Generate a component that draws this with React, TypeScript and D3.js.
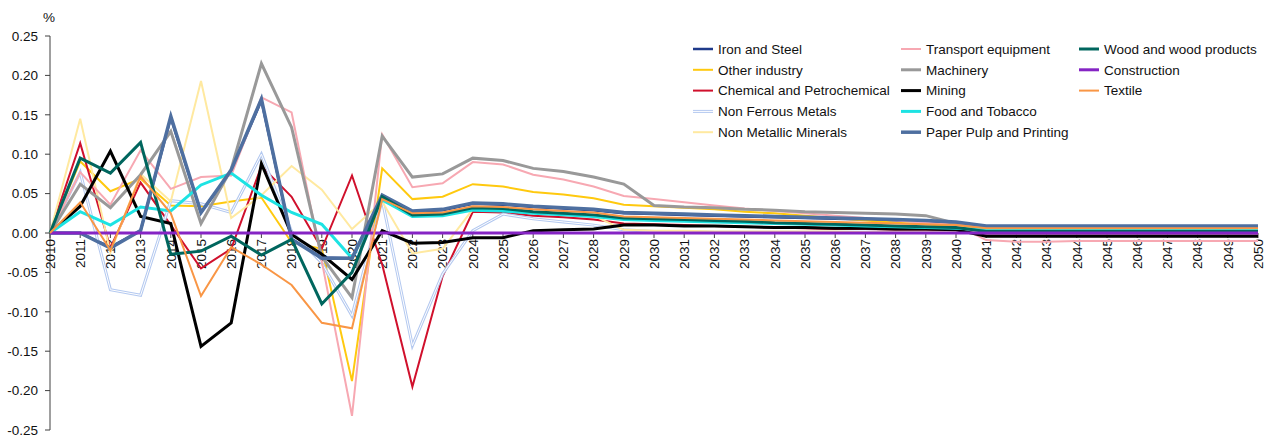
import * as d3 from "d3";

const years = d3.range(2010, 2051);

const ironSteel = [0, 0, -0.018, 0.003, 0.146, 0.026, 0.079, 0.168, -0.008, -0.031, -0.032, 0.047, 0.027, 0.029, 0.037, 0.036, 0.033, 0.031, 0.029, 0.025, 0.024, 0.023, 0.022, 0.021, 0.02, 0.019, 0.018, 0.017, 0.016, 0.015, 0.013, 0.003, 0.003, 0.003, 0.003, 0.003, 0.003, 0.003, 0.003, 0.003, 0.003];
const otherIndustry = [0, 0.091, 0.053, 0.069, 0.035, 0.034, 0.04, 0.045, -0.012, -0.02, -0.188, 0.082, 0.043, 0.046, 0.062, 0.059, 0.052, 0.049, 0.044, 0.036, 0.034, 0.032, 0.03, 0.027, 0.025, 0.022, 0.019, 0.016, 0.013, 0.011, 0.008, 0.005, 0.005, 0.005, 0.005, 0.005, 0.005, 0.005, 0.005, 0.005, 0.005];
const chemical = [0, 0.114, -0.019, 0.064, 0.01, -0.045, -0.02, 0.085, 0.046, -0.02, 0.073, -0.04, -0.195, -0.055, 0.027, 0.026, 0.022, 0.02, 0.017, 0.012, 0.011, 0.01, 0.009, 0.008, 0.007, 0.006, 0.005, 0.005, 0.004, 0.004, 0.003, -0.003, -0.003, -0.003, -0.003, -0.003, -0.003, -0.003, -0.003, -0.003, -0.003];
const nonFerrous = [0, 0.077, -0.072, -0.079, 0.041, 0.037, 0.026, 0.1, 0.002, -0.038, -0.105, 0.042, -0.143, -0.052, 0.003, 0.024, 0.018, 0.014, 0.01, 0.004, 0.002, 0.002, 0.001, 0.001, 0.001, 0.001, 0.001, 0.001, 0.001, 0.001, 0.001, 0, 0, 0, 0, 0, 0, 0, 0, 0, 0];
const nonMetallic = [0, 0.145, -0.025, 0.075, 0.04, 0.193, 0.019, 0.048, 0.085, 0.055, 0.005, 0.04, -0.026, -0.02, 0.03, 0.03, 0.027, 0.025, 0.022, 0.004, 0.003, 0.003, 0.002, 0.002, 0.002, 0.002, 0.002, 0.001, 0.001, 0.001, 0.001, 0.001, 0.001, 0.001, 0.001, 0.001, 0.001, 0.001, 0.001, 0.001, 0.001];
const transport = [0, 0.077, 0.036, 0.105, 0.056, 0.071, 0.073, 0.172, 0.153, -0.036, -0.232, 0.125, 0.058, 0.063, 0.09, 0.087, 0.074, 0.068, 0.059, 0.047, 0.043, 0.039, 0.035, 0.031, 0.028, 0.025, 0.022, 0.019, 0.016, 0.013, 0.01, -0.009, -0.011, -0.011, -0.01, -0.01, -0.01, -0.01, -0.01, -0.01, -0.01];
const machinery = [0, 0.062, 0.032, 0.074, 0.129, 0.012, 0.081, 0.215, 0.134, -0.03, -0.082, 0.123, 0.071, 0.075, 0.095, 0.092, 0.082, 0.078, 0.071, 0.062, 0.035, 0.033, 0.032, 0.03, 0.029, 0.027, 0.026, 0.025, 0.024, 0.022, 0.012, 0.007, 0.007, 0.007, 0.007, 0.007, 0.007, 0.007, 0.007, 0.007, 0.007];
const mining = [0, 0.034, 0.104, 0.021, 0.012, -0.144, -0.114, 0.088, -0.002, -0.027, -0.059, 0.003, -0.013, -0.012, -0.006, -0.006, 0.003, 0.004, 0.005, 0.01, 0.01, 0.009, 0.009, 0.008, 0.007, 0.007, 0.006, 0.006, 0.005, 0.005, 0.004, -0.004, -0.004, -0.004, -0.004, -0.004, -0.004, -0.004, -0.004, -0.004, -0.004];
const foodTobacco = [0, 0.027, 0.01, 0.033, 0.028, 0.061, 0.076, 0.048, 0.026, 0.011, -0.032, 0.042, 0.021, 0.022, 0.029, 0.028, 0.025, 0.023, 0.021, 0.017, 0.016, 0.015, 0.014, 0.013, 0.012, 0.011, 0.01, 0.009, 0.008, 0.007, 0.006, 0.004, 0.004, 0.004, 0.004, 0.004, 0.004, 0.004, 0.004, 0.004, 0.004];
const paperPulp = [0, 0, -0.019, 0.003, 0.148, 0.026, 0.08, 0.17, -0.008, -0.032, -0.032, 0.048, 0.028, 0.03, 0.038, 0.037, 0.034, 0.032, 0.03, 0.026, 0.025, 0.024, 0.023, 0.022, 0.021, 0.02, 0.019, 0.018, 0.017, 0.016, 0.014, 0.009, 0.009, 0.009, 0.009, 0.009, 0.009, 0.009, 0.009, 0.009, 0.009];
const wood = [0, 0.095, 0.076, 0.115, -0.027, -0.023, -0.004, -0.028, -0.008, -0.09, -0.05, 0.046, 0.023, 0.024, 0.032, 0.031, 0.027, 0.025, 0.023, 0.019, 0.018, 0.017, 0.016, 0.015, 0.013, 0.012, 0.011, 0.01, 0.009, 0.008, 0.007, 0.002, 0.002, 0.002, 0.002, 0.002, 0.002, 0.002, 0.002, 0.002, 0.002];
const construction = [0, 0, 0, 0, 0, 0, 0, 0, 0, 0, 0, 0, 0, 0, 0, 0, 0, 0, 0, 0, 0, 0, 0, 0, 0, 0, 0, 0, 0, 0, 0, 0, 0, 0, 0, 0, 0, 0, 0, 0, 0];
const textile = [0, 0.039, -0.022, 0.072, 0.025, -0.08, -0.018, -0.04, -0.066, -0.114, -0.121, 0.043, 0.025, 0.026, 0.034, 0.033, 0.03, 0.028, 0.026, 0.021, 0.02, 0.019, 0.018, 0.017, 0.016, 0.015, 0.014, 0.013, 0.012, 0.011, 0.01, 0.006, 0.006, 0.006, 0.006, 0.006, 0.006, 0.006, 0.006, 0.006, 0.006];

type Series = { name: string; values: number[]; color: string; width: number; double?: boolean };

const series: Series[] = [
  { name: "Iron and Steel", values: ironSteel, color: "#1F3A8A", width: 2.5 },
  { name: "Other industry", values: otherIndustry, color: "#FFC90E", width: 2 },
  { name: "Chemical and Petrochemical", values: chemical, color: "#D0102C", width: 2 },
  { name: "Non Ferrous Metals", values: nonFerrous, color: "#B4C9F0", width: 3, double: true },
  { name: "Non Metallic Minerals", values: nonMetallic, color: "#FFE9A0", width: 2 },
  { name: "Transport equipment", values: transport, color: "#F7A8B2", width: 2 },
  { name: "Machinery", values: machinery, color: "#999999", width: 3 },
  { name: "Mining", values: mining, color: "#000000", width: 3 },
  { name: "Food and Tobacco", values: foodTobacco, color: "#1DE3E3", width: 3 },
  { name: "Paper Pulp and Printing", values: paperPulp, color: "#4E6FA0", width: 3.5 },
  { name: "Wood and wood products", values: wood, color: "#00665E", width: 3 },
  { name: "Construction", values: construction, color: "#8524C4", width: 3 },
  { name: "Textile", values: textile, color: "#F99645", width: 2 },
];

const W = 1271;
const H = 439;
const font = "'Liberation Sans', Arial, sans-serif";
const fs = 13.5;

export default function App() {
  const x = d3.scaleLinear().domain([2010, 2050]).range([50, 1258]);
  const y = d3.scaleLinear().domain([-0.25, 0.25]).range([430, 36]);
  const line = d3.line<number>().x((_, i) => x(years[i])).y(d => y(d));
  const yTicks = d3.range(-0.25, 0.2501, 0.05);

  return (
    <svg width={W} height={H} style={{ position: "absolute", left: 0, top: 0, background: "#fff" }} fontFamily={font}>
      {/* y axis */}
      <line x1={50} x2={50} y1={y(0.25)} y2={y(-0.25)} stroke="#404040" strokeWidth={1} />
      {yTicks.map(t => (
        <g key={t.toFixed(2)}>
          <line x1={45} x2={50} y1={y(t)} y2={y(t)} stroke="#404040" />
          <text x={38} y={y(t)} dy="0.35em" textAnchor="end" fontSize={fs} fill="#111">
            {t.toFixed(2).replace("-0.00", "0.00")}
          </text>
        </g>
      ))}
      <text x={49} y={22} textAnchor="middle" fontSize={fs} fill="#111">%</text>

      {/* x axis */}
      <line x1={x(2010)} x2={x(2050)} y1={y(0)} y2={y(0)} stroke="#404040" />
      {years.map(yr => (
        <g key={yr}>
          <line x1={x(yr)} x2={x(yr)} y1={y(0)} y2={y(0) + 5} stroke="#404040" />
          <text
            transform={`translate(${x(yr)},${y(0) + 6}) rotate(-90)`}
            textAnchor="end"
            dy="0.35em"
            fontSize={fs}
            fill="#111"
          >
            {yr}
          </text>
        </g>
      ))}

      {/* series */}
      {series.map(s => (
        <g key={s.name}>
          <path d={line(s.values)!} fill="none" stroke={s.color} strokeWidth={s.width} />
          {s.double && <path d={line(s.values)!} fill="none" stroke="#fff" strokeWidth={1} />}
        </g>
      ))}

      {/* legend */}
      {series.map((s, i) => {
        const col = Math.floor(i / 5);
        const row = i % 5;
        const lx = [693, 901, 1079][col];
        const ly = 49 + row * 20.8;
        return (
          <g key={`lg-${s.name}`}>
            <line x1={lx} x2={lx + 20} y1={ly} y2={ly} stroke={s.color} strokeWidth={s.width} />
            {s.double && <line x1={lx} x2={lx + 20} y1={ly} y2={ly} stroke="#fff" strokeWidth={1} />}
            <text x={lx + 25} y={ly} dy="0.35em" fontSize={fs} fill="#111">{s.name}</text>
          </g>
        );
      })}
    </svg>
  );
}
